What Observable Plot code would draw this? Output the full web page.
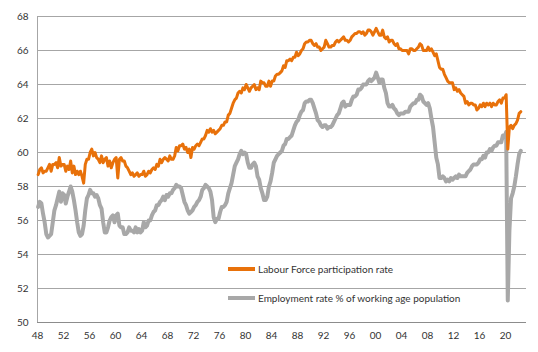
<!DOCTYPE html>
<html><head><meta charset="utf-8">
<script src="https://cdn.jsdelivr.net/npm/d3@7"></script>
<script src="https://cdn.jsdelivr.net/npm/@observablehq/plot@0.6"></script>
<style>
body{margin:0;background:#fff;}
#chart{position:relative;width:538px;height:352px;font-family:Lato,sans-serif;}
.leg{position:absolute;left:228px;font-size:10px;color:#333;display:flex;align-items:center;white-space:nowrap;line-height:12px;}
.sw{width:27px;height:4px;margin-right:3px;}
</style></head><body>
<div id="chart"></div>
<script>
// quarterly values, starting 1948 Q1
const startYear = 1948;
const lfpr = [
58.7,59.0,59.1,58.8, 58.9,58.9,59.1,59.3, 58.9,59.3,59.3,59.4, 59.1,59.7,59.2,59.3,
59.3,58.9,59.2,59.0, 59.5,58.8,59.2,58.7, 58.9,58.7,58.9,58.6, 58.2,59.3,59.6,59.6,
60.0,60.2,59.8,60.0, 59.7,59.6,59.4,59.8, 59.4,59.6,59.7,59.2, 59.5,59.1,59.4,59.6,
59.7,58.5,59.6,59.7, 59.5,59.5,59.2,59.1, 58.9,58.7,58.8,58.6, 58.7,58.8,58.6,58.7,
58.7,58.9,58.6,58.7, 58.9,58.8,59.0,59.1, 59.0,59.3,59.2,59.6, 59.4,59.6,59.7,59.6,
59.5,59.8,59.6,59.6, 59.8,60.3,60.1,60.4, 60.4,60.5,60.2,60.3, 60.0,60.2,59.7,60.3,
60.2,60.4,60.5,60.4, 60.6,60.8,60.8,61.0, 61.3,61.2,61.4,61.2, 61.3,61.1,61.2,61.3,
61.4,61.6,61.6,61.8, 61.8,62.2,62.3,62.6, 62.9,63.1,63.2,63.5, 63.6,63.5,63.8,63.7,
64.0,63.8,63.6,63.8, 63.9,64.0,63.7,63.8, 63.7,64.2,64.1,64.1, 63.9,63.9,64.2,63.9,
64.2,64.2,64.5,64.6, 64.6,64.7,64.8,65.1, 65.0,65.4,65.4,65.5, 65.4,65.6,65.6,65.9,
65.7,65.8,66.0,66.1, 66.4,66.5,66.5,66.6, 66.6,66.4,66.3,66.4, 66.2,66.2,66.0,66.1,
66.2,66.6,66.4,66.2, 66.2,66.3,66.3,66.5, 66.6,66.5,66.6,66.7, 66.8,66.6,66.6,66.5,
66.6,66.8,66.9,67.0, 67.0,67.1,67.1,67.0, 67.1,66.9,67.0,67.2, 67.2,67.1,66.9,67.1,
67.3,67.1,66.9,66.9, 67.2,66.8,66.7,66.8, 66.5,66.6,66.6,66.4, 66.3,66.4,66.1,66.1,
66.0,66.0,66.0,66.0, 65.8,66.1,66.1,66.0, 66.0,66.1,66.2,66.4, 66.3,66.0,66.0,66.0,
66.2,66.0,66.1,65.9, 65.7,65.8,65.4,65.0, 64.9,64.9,64.6,64.4, 64.2,64.1,64.1,64.1,
63.7,63.8,63.6,63.7, 63.5,63.4,63.3,62.9, 63.0,62.8,62.9,62.9, 62.8,62.8,62.5,62.6,
62.8,62.7,62.9,62.7, 62.9,62.8,62.9,62.7, 62.9,62.8,62.8,63.0, 63.1,62.9,63.2,63.2,
63.4,60.2,61.5,61.6, 61.4,61.6,61.7,61.9, 62.3,62.4
];
const emp = [
56.8,57.1,57.0,56.4, 55.9,55.2,55.0,55.1, 55.2,55.9,56.6,56.9, 57.3,57.7,57.1,57.6,
57.5,57.0,57.4,57.7, 58.0,57.7,57.2,56.6, 55.9,55.3,55.1,55.2, 55.7,56.6,57.3,57.5,
57.8,57.6,57.6,57.4, 57.5,57.3,56.9,56.7, 55.9,55.3,55.3,55.6, 56.0,56.2,56.3,55.9,
56.3,56.4,55.7,55.6, 55.6,55.2,55.2,55.3, 55.6,55.4,55.4,55.3, 55.6,55.3,55.5,55.3,
55.4,55.9,55.6,55.7, 56.0,56.0,56.3,56.5, 56.6,56.9,56.9,57.1, 57.2,57.4,57.2,57.5,
57.4,57.6,57.6,57.8, 57.9,58.1,58.0,58.0, 57.9,57.5,57.1,56.9, 56.6,56.4,56.5,56.6,
56.8,56.9,57.1,57.2, 57.4,57.8,57.9,58.1, 58.0,57.9,57.7,57.2, 56.2,55.9,56.1,56.1,
56.5,56.8,56.8,56.9, 57.1,57.6,57.9,58.2, 58.7,59.2,59.4,59.6, 59.9,60.1,59.9,60.0,
59.9,59.4,59.1,59.1, 59.3,59.4,59.2,58.6, 58.4,57.9,57.6,57.2, 57.2,57.4,58.0,58.3,
58.8,59.4,59.6,59.8, 59.9,60.0,60.1,60.4, 60.5,60.8,60.8,60.9, 61.0,61.3,61.6,61.8,
61.9,62.2,62.4,62.5, 62.9,63.0,63.0,63.1, 63.1,62.9,62.6,62.3, 61.9,61.8,61.6,61.5,
61.6,61.6,61.4,61.5, 61.5,61.6,61.8,62.0, 62.2,62.3,62.6,62.9, 63.0,62.7,62.8,62.8,
62.8,63.1,63.3,63.3, 63.4,63.7,63.7,63.8, 64.0,64.0,64.0,64.2, 64.3,64.2,64.3,64.4,
64.7,64.4,64.1,64.3, 64.3,63.8,63.5,62.9, 62.7,62.7,62.8,62.6, 62.5,62.3,62.2,62.3,
62.3,62.3,62.4,62.4, 62.4,62.7,62.8,62.9, 62.9,63.1,63.1,63.4, 63.3,63.0,62.9,62.8,
62.9,62.6,62.0,61.5, 60.6,59.7,59.3,58.5, 58.5,58.6,58.5,58.3, 58.4,58.3,58.5,58.4,
58.5,58.6,58.5,58.7, 58.6,58.6,58.6,58.6, 58.8,58.9,59.0,59.2, 59.3,59.3,59.3,59.4,
59.6,59.6,59.8,59.7, 60.0,60.0,60.2,60.1, 60.3,60.4,60.4,60.6, 60.6,60.6,61.0,60.9,
61.2,51.3,55.4,57.3, 57.6,58.0,58.6,59.3, 59.9,60.1
];
const xTicks = d3.range(1948, 2021, 4);
const yTicks = d3.range(50, 69, 2);
const seriesNames = ["Labour Force participation rate", "Employment rate % of working age population"];
const colors = ["#E8710A", "#A8A8A8"];

const toRows = (arr) => arr.map((v, i) => ({date: startYear + i / 4 + 0.1, value: v}));
const lfprRows = toRows(lfpr);
const empRows = toRows(emp);

const chart = Plot.plot({
  width: 538, height: 352,
  marginLeft: 37, marginRight: 12, marginTop: 16, marginBottom: 30,
  style: {fontFamily: "Lato, sans-serif", fontSize: "10px", color: "#333", background: "#fff"},
  x: {domain: [1948, 2023.23], ticks: xTicks, tickFormat: d => String(d % 100).padStart(2, "0"), tickSize: 0, tickPadding: 9, label: null},
  y: {domain: [50, 68], ticks: yTicks, tickSize: 0, tickPadding: 9, label: null},
  marks: [
    Plot.ruleY(yTicks.filter(d => d > 50), {stroke: "#A6A6A6", strokeWidth: 1}),
    Plot.ruleY([50], {stroke: "#8C8C8C", strokeWidth: 1}),
    Plot.ruleX([1948], {stroke: "#A6A6A6", strokeWidth: 1}),
    Plot.lineY(empRows, {x: "date", y: "value", stroke: colors[1], strokeWidth: 4}),
    Plot.lineY(lfprRows, {x: "date", y: "value", stroke: colors[0], strokeWidth: 3})
  ]
});
const root = document.getElementById("chart");
root.appendChild(chart);
const legTops = [263, 292];
seriesNames.forEach((name, i) => {
  const d = document.createElement("div");
  d.className = "leg";
  d.style.top = legTops[i] + "px";
  const sw = document.createElement("span");
  sw.className = "sw";
  sw.style.background = colors[i];
  const t = document.createElement("span");
  t.textContent = name;
  d.appendChild(sw); d.appendChild(t);
  root.appendChild(d);
});
</script>
</body></html>
